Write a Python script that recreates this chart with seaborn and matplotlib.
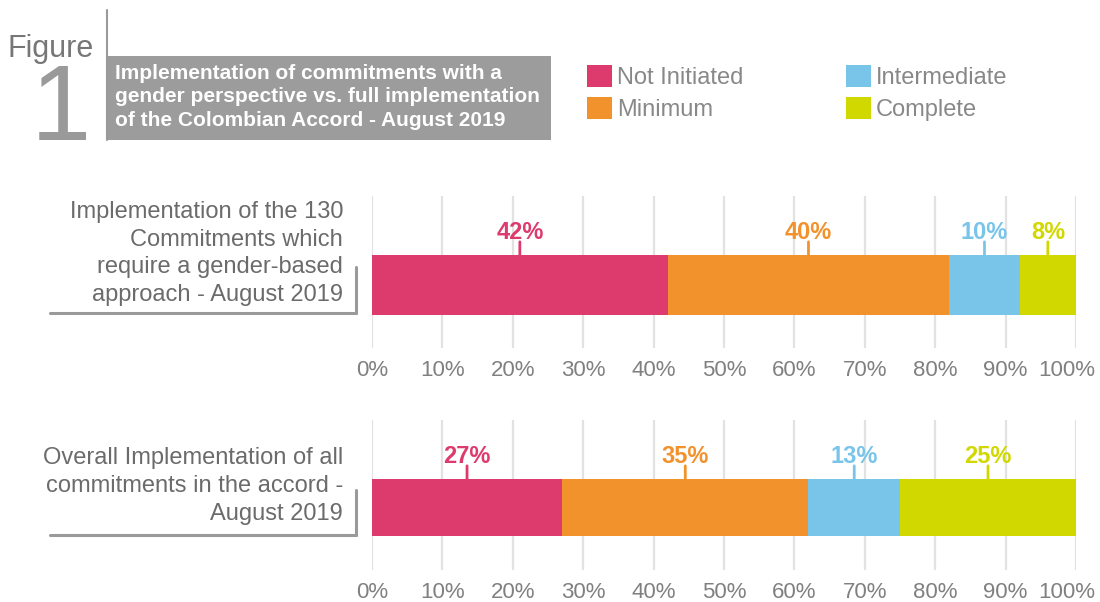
import matplotlib
matplotlib.use("Agg")
import matplotlib.pyplot as plt
from matplotlib.patches import Rectangle, Patch
from matplotlib.lines import Line2D
from matplotlib.transforms import ScaledTranslation
import seaborn as sns
import pandas as pd

# ---------------- data ----------------
categories = ["Not Initiated", "Minimum", "Intermediate", "Complete"]
colors = ["#dd3a6e", "#f2922c", "#79c5ea", "#d1d800"]
gender_values = [42, 40, 10, 8]
overall_values = [27, 35, 13, 25]
row_labels = [
    "Implementation of the 130\nCommitments which\nrequire a gender-based\napproach - August 2019",
    "Overall Implementation of all\ncommitments in the accord -\nAugust 2019",
]
tick_values = [0, 10, 20, 30, 40, 50, 60, 70, 80, 90, 100]
tick_labels = [f"{t}%" for t in tick_values]
title_text = ("Implementation of commitments with a\n"
              "gender perspective vs. full implementation\n"
              "of the Colombian Accord - August 2019")

sns.set_style("white")
plt.rcParams["font.family"] = ["Liberation Sans", "DejaVu Sans"]

W, H = 1100, 602
fig = plt.figure(figsize=(W / 100, H / 100), dpi=100)


def fx(px):
    return px / W


def fy(py):
    return 1 - py / H


BAR_W = 0.8


def draw_panel(rect_px, values, row_label, bar_px):
    x0, y_top, x1, y_bot = rect_px
    ax = fig.add_axes([fx(x0), fy(y_bot), fx(x1) - fx(x0), (y_bot - y_top) / H])
    df = pd.DataFrame({"status": categories, "value": values, "color": colors})
    df["end"] = df["value"].cumsum()
    df["start"] = df["end"] - df["value"]
    df["row"] = row_label
    # draw cumulative bars from the longest to the shortest (stacking)
    for i in reversed(range(len(df))):
        sub = df.iloc[[i]]
        sns.barplot(data=sub, x="end", y="row", orient="h", color=sub["color"].iloc[0],
                    saturation=1, width=BAR_W, ax=ax, linewidth=0)
    ax.set_xlim(0, 100)
    bar_top, bar_bot = bar_px
    unit = (bar_bot - bar_top) / BAR_W
    center = (bar_top + bar_bot) / 2
    ax.set_ylim((y_bot - center) / unit, -(center - y_top) / unit)
    ax.set_xticks(tick_values)
    ax.set_xticklabels(tick_labels)
    ax.set_yticks([])
    ax.set_xlabel("")
    ax.set_ylabel("")
    ax.tick_params(axis="x", length=0, pad=8.5, labelsize=16, labelcolor="#808080")
    last = ax.get_xticklabels()[-1]
    last.set_transform(last.get_transform() + ScaledTranslation(-0.09, 0, fig.dpi_scale_trans))
    ax.grid(axis="x", color="#e2e2e2", linewidth=1.6)
    ax.set_axisbelow(True)
    for s in ax.spines.values():
        s.set_visible(False)
    ax.patch.set_alpha(0)
    top = -BAR_W / 2
    for _, r in df.iterrows():
        c = (r["start"] + r["end"]) / 2
        ax.annotate("", xy=(c, top), xytext=(0, 9.5), textcoords="offset points",
                    arrowprops=dict(arrowstyle="-", color=r["color"], lw=2,
                                    shrinkA=0, shrinkB=0))
        ax.annotate(f"{r['value']}%", xy=(c, top), xytext=(0, 16.5),
                    textcoords="offset points", ha="center", va="center",
                    fontsize=17, fontweight="bold", color=r["color"])
    return ax


ax1 = draw_panel((372, 196, 1076, 348), gender_values, row_labels[0], (255, 315))
ax2 = draw_panel((372, 420, 1076, 570), overall_values, row_labels[1], (479, 536))

# row labels on the left with bracket lines
fig.text(fx(343), fy(253.5), row_labels[0], ha="right", va="center", fontsize=17,
         color="#6b6b6b", linespacing=1.33)
fig.text(fx(343), fy(486), row_labels[1], ha="right", va="center", fontsize=17,
         color="#6b6b6b", linespacing=1.35)
for (yh, yv) in [(313, 267), (535, 490)]:
    fig.add_artist(Line2D([fx(50), fx(356)], [fy(yh), fy(yh)], color="#9a9a9a", lw=2.2,
                          transform=fig.transFigure))
    fig.add_artist(Line2D([fx(356), fx(356)], [fy(yv), fy(yh)], color="#9a9a9a", lw=2.2,
                          transform=fig.transFigure))

# Figure heading
fig.text(fx(7), fy(57), "Figure", ha="left", va="baseline", fontsize=22, color="#777777")
fig.text(fx(31), fy(140), "1", ha="left", va="baseline", fontsize=78, color="#9a9a9a")
fig.add_artist(Line2D([fx(106.5), fx(106.5)], [fy(10), fy(140)], color="#9a9a9a", lw=1.5,
                      transform=fig.transFigure))
fig.add_artist(Rectangle((fx(106), fy(140)), fx(551) - fx(106), (140 - 56) / H,
                         facecolor="#9c9c9c", edgecolor="none", transform=fig.transFigure))
fig.text(fx(115), fy(97), title_text, ha="left", va="center", fontsize=15,
         fontweight="bold", color="white", linespacing=1.3)

# legend
handles = [Patch(facecolor=c, edgecolor="none", label=l) for c, l in zip(colors, categories)]
fig.legend(handles=handles, ncol=2, loc="upper left", bbox_to_anchor=(fx(587), fy(65)),
           frameon=False, fontsize=17, labelcolor="#888888", handlelength=1.06,
           handleheight=1.06, handletextpad=0.2, columnspacing=4.37, labelspacing=0.34,
           borderpad=0, borderaxespad=0)

fig.savefig("out.png", dpi=100)
